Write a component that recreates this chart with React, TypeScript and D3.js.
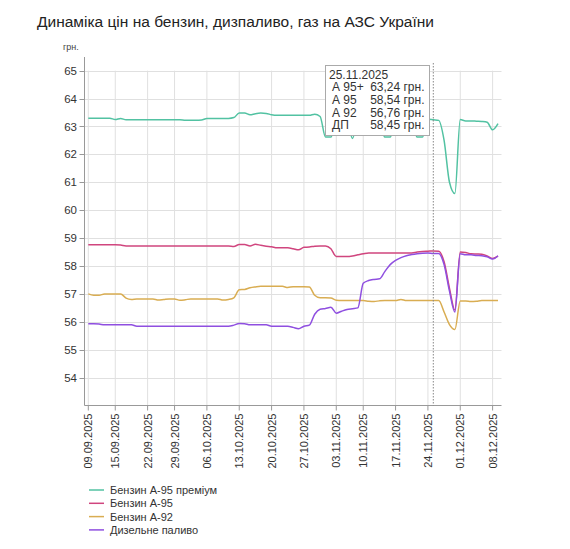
import * as d3 from "d3";

// dates on the x axis (the source skips some days)
const dates = [
  "09.09.2025", "10.09.2025", "11.09.2025", "12.09.2025", "13.09.2025",
  "15.09.2025", "16.09.2025", "17.09.2025", "18.09.2025", "19.09.2025", "20.09.2025",
  "22.09.2025", "23.09.2025", "24.09.2025", "25.09.2025", "26.09.2025",
  "29.09.2025", "30.09.2025", "01.10.2025", "02.10.2025", "03.10.2025", "04.10.2025",
  "06.10.2025", "07.10.2025", "08.10.2025", "09.10.2025", "10.10.2025", "11.10.2025",
  "13.10.2025", "14.10.2025", "15.10.2025", "16.10.2025", "17.10.2025", "18.10.2025",
  "20.10.2025", "21.10.2025", "22.10.2025", "23.10.2025", "24.10.2025", "25.10.2025",
  "27.10.2025", "28.10.2025", "29.10.2025", "30.10.2025", "31.10.2025", "01.11.2025",
  "03.11.2025", "04.11.2025", "05.11.2025", "06.11.2025", "07.11.2025",
  "10.11.2025", "11.11.2025", "12.11.2025", "13.11.2025", "14.11.2025", "15.11.2025",
  "17.11.2025", "18.11.2025", "19.11.2025", "20.11.2025", "21.11.2025", "22.11.2025",
  "24.11.2025", "25.11.2025", "26.11.2025", "27.11.2025", "28.11.2025", "29.11.2025",
  "01.12.2025", "02.12.2025", "03.12.2025", "04.12.2025", "05.12.2025", "06.12.2025",
  "08.12.2025", "09.12.2025",
];

const tickDates = [
  "09.09.2025", "15.09.2025", "22.09.2025", "29.09.2025", "06.10.2025", "13.10.2025",
  "20.10.2025", "27.10.2025", "03.11.2025", "10.11.2025", "17.11.2025", "24.11.2025",
  "01.12.2025", "08.12.2025",
];

const a95plus = [
  63.3, 63.3, 63.3, 63.3, 63.3,
  63.25, 63.29, 63.24, 63.24, 63.24, 63.24,
  63.24, 63.24, 63.24, 63.24, 63.24,
  63.24, 63.24, 63.22, 63.22, 63.22, 63.23,
  63.29, 63.29, 63.29, 63.29, 63.29, 63.32,
  63.48, 63.48, 63.42, 63.46, 63.48, 63.47,
  63.42, 63.4, 63.4, 63.4, 63.4, 63.4,
  63.4, 63.4, 63.44, 63.36, 62.62, 62.62,
  63.2, 63.2, 63.2, 62.57, 63.2,
  63.2, 63.2, 63.2, 63.2, 62.62, 62.62,
  63.2, 63.2, 63.2, 63.2, 62.62, 62.62,
  63.26, 63.24, 63.22, 62.5, 61.0, 60.6,
  63.25, 63.2, 63.2, 63.19, 63.18, 63.15,
  62.88, 63.1,
];

const a95 = [
  58.76, 58.76, 58.76, 58.76, 58.76,
  58.76, 58.75, 58.72, 58.72, 58.72, 58.72,
  58.72, 58.72, 58.72, 58.72, 58.72,
  58.72, 58.72, 58.72, 58.72, 58.72, 58.72,
  58.72, 58.72, 58.72, 58.72, 58.72, 58.7,
  58.77, 58.77, 58.72, 58.78, 58.74, 58.71,
  58.69, 58.65, 58.65, 58.65, 58.62, 58.58,
  58.67, 58.68, 58.71, 58.72, 58.72, 58.62,
  58.34, 58.34, 58.34, 58.36, 58.4,
  58.44, 58.47, 58.47, 58.47, 58.47, 58.47,
  58.47, 58.47, 58.47, 58.47, 58.5, 58.52,
  58.53, 58.54, 58.53, 58.15, 57.2, 56.42,
  58.5, 58.48, 58.44, 58.43, 58.42, 58.36,
  58.27, 58.35,
];

const a92 = [
  57.0, 56.95, 56.95, 57.0, 57.0,
  57.0, 57.0, 56.85, 56.8, 56.82, 56.82,
  56.82, 56.82, 56.78, 56.8, 56.82,
  56.82, 56.77, 56.79, 56.82, 56.82, 56.82,
  56.82, 56.82, 56.82, 56.78, 56.8, 56.86,
  57.15, 57.16, 57.22, 57.25, 57.27, 57.27,
  57.27, 57.27, 57.27, 57.23, 57.26, 57.26,
  57.26, 57.25, 56.95, 56.86, 56.86, 56.85,
  56.77, 56.76, 56.76, 56.76, 56.76,
  56.76, 56.74, 56.73, 56.75, 56.76, 56.76,
  56.76, 56.8, 56.76, 56.76, 56.76, 56.76,
  56.76, 56.76, 56.76, 56.35, 55.9, 55.72,
  56.75, 56.75, 56.73, 56.74, 56.76, 56.76,
  56.76, 56.76,
];

const diesel = [
  55.93, 55.93, 55.92, 55.89, 55.89,
  55.89, 55.89, 55.89, 55.89, 55.84, 55.84,
  55.84, 55.84, 55.84, 55.84, 55.84,
  55.84, 55.84, 55.84, 55.84, 55.84, 55.84,
  55.84, 55.84, 55.84, 55.84, 55.84, 55.88,
  55.94, 55.93, 55.89, 55.89, 55.89, 55.89,
  55.84, 55.84, 55.84, 55.84, 55.8, 55.75,
  55.84, 55.88, 56.27, 56.45, 56.48, 56.52,
  56.31, 56.38, 56.44, 56.47, 56.5,
  57.38, 57.48, 57.52, 57.54, 57.8, 58.05,
  58.2, 58.3, 58.37, 58.41, 58.44, 58.46,
  58.47, 58.45, 58.45, 58.05, 57.1, 56.35,
  58.44, 58.4, 58.4, 58.38, 58.37, 58.33,
  58.25, 58.37,
];

const yTicks = [54, 55, 56, 57, 58, 59, 60, 61, 62, 63, 64, 65];

const series = [
  { name: "Бензин А-95 преміум", short: "А 95+", color: "#52c2a2", values: a95plus },
  { name: "Бензин А-95", short: "А 95", color: "#d0457e", values: a95 },
  { name: "Бензин А-92", short: "А 92", color: "#d9ad52", values: a92 },
  { name: "Дизельне паливо", short: "ДП", color: "#8f4fe0", values: diesel },
];

const hoverDate = "25.11.2025";

const font = "'Liberation Sans', Arial, sans-serif";

export default function App() {
  const left = 84.5;
  const right = 501.5;
  const bottom = 405.5;

  const x = d3.scalePoint<string>().domain(dates).range([88.3, 498]);
  const y = d3.scaleLinear().domain([53, 65]).range([bottom, 70.7]);

  const line = d3
    .line<number>()
    .x((_, i) => x(dates[i]) as number)
    .y((d) => y(d))
    .curve(d3.curveMonotoneX);

  const hi = dates.indexOf(hoverDate);
  const hx = x(hoverDate) as number;
  const fmt = (v: number) => v.toFixed(2).replace(".", ",") + " грн.";

  return (
    <svg
      width={570}
      height={549}
      style={{ position: "absolute", left: 0, top: 0, background: "#fff" }}
      fontFamily={font}
    >
      <text x={37} y={27} fontSize={15.5} fill="#222">
        Динаміка цін на бензин, дизпаливо, газ на АЗС України
      </text>

      {/* grid */}
      <g stroke="#e0e0e0" strokeWidth={1}>
        {yTicks.map((t) => (
          <line key={"gy" + t} x1={left} x2={right} y1={Math.round(y(t)) + 0.5} y2={Math.round(y(t)) + 0.5} />
        ))}
        {tickDates.map((d) => (
          <line key={"gx" + d} x1={x(d)} x2={x(d)} y1={y(65)} y2={bottom} />
        ))}
      </g>

      {/* y axis */}
      <text x={63} y={50} fontSize={9} fill="#444">
        грн.
      </text>
      <line x1={left} x2={left} y1={57} y2={bottom} stroke="#999" />
      {yTicks.map((t) => (
        <g key={"yt" + t}>
          <line x1={left - 5} x2={left} y1={Math.round(y(t)) + 0.5} y2={Math.round(y(t)) + 0.5} stroke="#999" />
          <text x={77} y={y(t) + 4} fontSize={11.5} fill="#333" textAnchor="end">
            {t}
          </text>
        </g>
      ))}

      {/* x axis */}
      <line x1={left} x2={right} y1={bottom} y2={bottom} stroke="#999" />
      {tickDates.map((d) => (
        <g key={"xt" + d}>
          <line x1={x(d)} x2={x(d)} y1={bottom} y2={bottom + 5} stroke="#999" />
          <text
            transform={`translate(${(x(d) as number) + 4},${bottom + 8}) rotate(-90)`}
            fontSize={11}
            fill="#333"
            textAnchor="end"
          >
            {d}
          </text>
        </g>
      ))}

      {/* lines */}
      {series.map((s) => (
        <path key={s.name} d={line(s.values) ?? ""} fill="none" stroke={s.color} strokeWidth={1.5} />
      ))}

      {/* hover marker */}
      <line x1={hx} x2={hx} y1={63} y2={bottom} stroke="#888" strokeDasharray="1.5,1.5" />
      <rect x={325.5} y={65.5} width={104} height={70} fill="#fff" stroke="#aaa" />
      <text x={329} y={78.5} fontSize={12} fill="#333">
        {hoverDate}
      </text>
      {series.map((s, i) => (
        <g key={"tt" + s.name} fontSize={12} fill="#333">
          <text x={332} y={91 + i * 12.8}>
            {s.short}
          </text>
          <text x={424.5} y={91 + i * 12.8} textAnchor="end">
            {fmt(s.values[hi])}
          </text>
        </g>
      ))}

      {/* legend */}
      {series.map((s, i) => (
        <g key={"lg" + s.name}>
          <line x1={89} x2={104} y1={490 + i * 13.3} y2={490 + i * 13.3} stroke={s.color} strokeWidth={1.5} />
          <text x={110} y={494 + i * 13.3} fontSize={11} fill="#333">
            {s.name}
          </text>
        </g>
      ))}
    </svg>
  );
}
